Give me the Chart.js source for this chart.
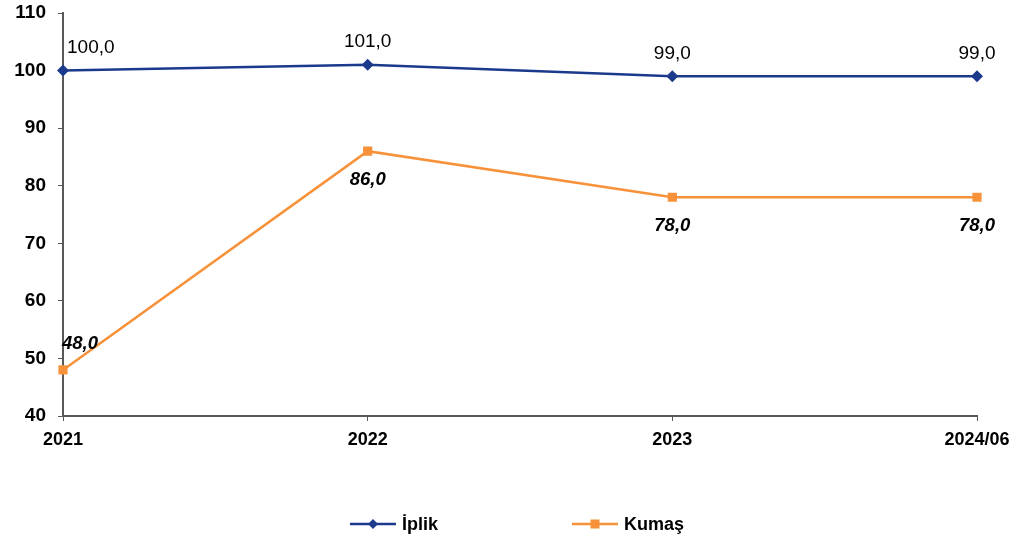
<!DOCTYPE html>
<html>
<head>
<meta charset="utf-8">
<script src="https://cdn.jsdelivr.net/npm/chart.js@4"></script>
<style>
  html, body { margin: 0; padding: 0; background: #fff; }
  #wrap { width: 1012px; height: 536px; position: relative; }
</style>
</head>
<body>
<div id="wrap"><canvas id="chartCanvas" width="1012" height="536"></canvas></div>
<script>
  // Data
  const years = ['2021', '2022', '2023', '2024/06'];
  const iplik = [100, 101, 99, 99];
  const kumas = [48, 86, 78, 78];
  const yTicks = [40, 50, 60, 70, 80, 90, 100, 110];

  const navy = '#1B3A8C';
  const orange = '#F7923A';
  const axisGrey = '#595959';
  const fontFamily = 'Arial, "Liberation Sans", sans-serif';

  const fmt = v => v.toFixed(1).replace('.', ',');

  // value labels, drawn next to each point (offset = distance of text centre from point)
  const valueLabels = {
    id: 'valueLabels',
    afterDatasetsDraw(chart) {
      const ctx = chart.ctx;
      ctx.save();
      ctx.textBaseline = 'alphabetic';
      chart.data.datasets.forEach((ds, i) => {
        const meta = chart.getDatasetMeta(i);
        meta.data.forEach((pt, j) => {
          const above = ds.labelAbove[j];
          ctx.font = ds.labelFont;
          ctx.fillStyle = '#000';
          ctx.textAlign = j === 0 ? 'left' : 'center';
          const x = j === 0 ? pt.x + (i === 0 ? 4 : -1) : pt.x;
          const halfCap = ds.labelSize * 0.358;
          const cy = above ? pt.y - ds.labelOffset : pt.y + ds.labelOffset;
          ctx.fillText(fmt(ds.data[j]), x, cy + halfCap);
        });
      });
      ctx.restore();
    }
  };

  // legend at the bottom: short line with marker and bold text
  const bottomLegend = {
    id: 'bottomLegend',
    afterDraw(chart) {
      const ctx = chart.ctx;
      const y = 524;
      const items = [
        { x: 350, text: 'İplik', color: navy, marker: 'diamond' },
        { x: 572, text: 'Kumaş', color: orange, marker: 'square' }
      ];
      ctx.save();
      items.forEach(it => {
        ctx.strokeStyle = it.color;
        ctx.lineWidth = 2.5;
        ctx.beginPath();
        ctx.moveTo(it.x, y);
        ctx.lineTo(it.x + 46, y);
        ctx.stroke();
        ctx.fillStyle = it.color;
        const cx = it.x + 23;
        if (it.marker === 'diamond') {
          ctx.beginPath();
          ctx.moveTo(cx, y - 5);
          ctx.lineTo(cx + 5, y);
          ctx.lineTo(cx, y + 5);
          ctx.lineTo(cx - 5, y);
          ctx.closePath();
          ctx.fill();
        } else {
          ctx.fillRect(cx - 4.5, y - 4.5, 9, 9);
        }
        ctx.fillStyle = '#000';
        ctx.font = 'bold 18px ' + fontFamily;
        ctx.textAlign = 'left';
        ctx.textBaseline = 'middle';
        ctx.fillText(it.text, it.x + 52, y + 1);
      });
      ctx.restore();
    }
  };

  const ctx = document.getElementById('chartCanvas').getContext('2d');
  const chart = new Chart(ctx, {
    type: 'line',
    data: {
      labels: years,
      datasets: [
        {
          label: 'İplik',
          data: iplik,
          borderColor: navy,
          backgroundColor: navy,
          borderWidth: 2.5,
          pointStyle: 'rectRot',
          pointRadius: 6,
          pointBorderWidth: 0,
          tension: 0,
          labelAbove: [true, true, true, true],
          labelSize: 19,
          labelOffset: 24.5,
          labelFont: '19px ' + fontFamily
        },
        {
          label: 'Kumaş',
          data: kumas,
          borderColor: orange,
          backgroundColor: orange,
          borderWidth: 2.5,
          pointStyle: 'rect',
          pointRadius: 6.5,
          pointBorderWidth: 0,
          tension: 0,
          labelAbove: [true, false, false, false],
          labelSize: 18.5,
          labelOffset: 27.5,
          labelFont: 'italic bold 18.5px ' + fontFamily
        }
      ]
    },
    options: {
      responsive: false,
      animation: false,
      layout: { padding: { left: 0, right: 35, top: 13, bottom: 0 } },
      plugins: {
        legend: { display: false },
        tooltip: { enabled: false }
      },
      scales: {
        x: {
          offset: false,
          afterFit(scale) {
            scale.height = 120;
            scale.paddingLeft = 0;
            scale.paddingRight = 0;
          },
          border: { color: axisGrey, width: 2 },
          grid: { drawOnChartArea: false, drawTicks: true, tickLength: 5, color: axisGrey, lineWidth: 1 },
          ticks: {
            color: '#000',
            padding: 8,
            maxRotation: 0,
            font: { family: fontFamily, size: 18, weight: 'bold' }
          }
        },
        y: {
          min: 40,
          max: 110,
          afterFit(scale) {
            scale.width = 63;
            scale.paddingTop = 0;
            scale.paddingBottom = 0;
          },
          afterBuildTicks(scale) { scale.ticks = yTicks.map(v => ({ value: v })); },
          border: { color: axisGrey, width: 2 },
          grid: { drawOnChartArea: false, drawTicks: true, tickLength: 5, color: axisGrey, lineWidth: 1 },
          ticks: {
            color: '#000',
            padding: 12,
            font: { family: fontFamily, size: 19, weight: 'bold' }
          }
        }
      }
    },
    plugins: [valueLabels, bottomLegend]
  });
</script>
</body>
</html>
